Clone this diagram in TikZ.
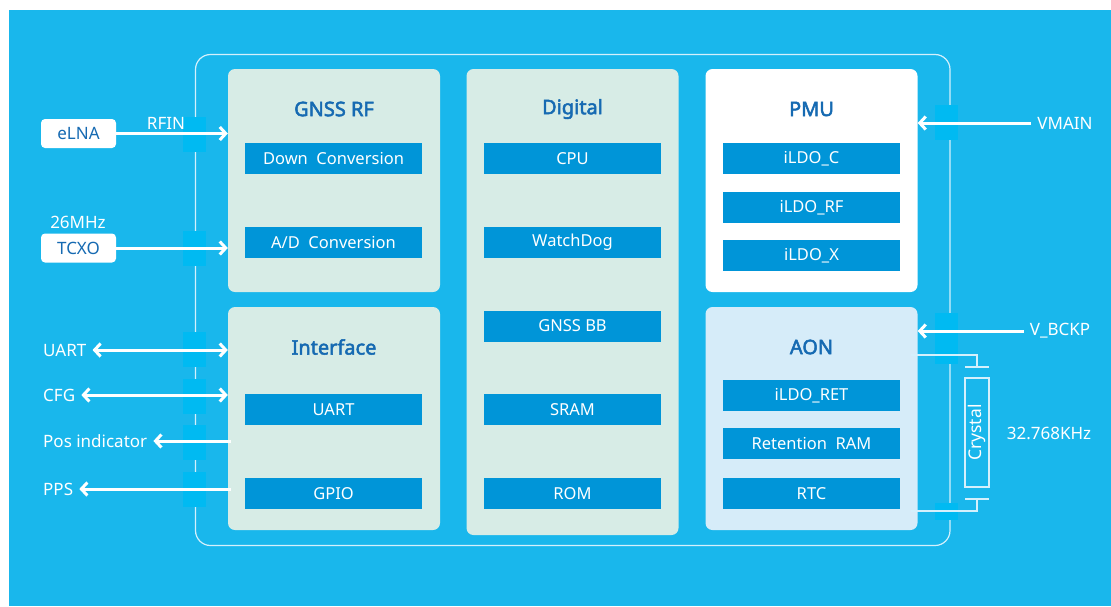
\documentclass[tikz,border=0pt]{standalone}
\usepackage{fontspec}
\setmainfont{Noto Sans}
\newfontfamily\titlefont{Noto Sans}[FakeBold=2.5]
\usetikzlibrary{arrows.meta,positioning}

\definecolor{bgblue}{RGB}{25,183,236}
\definecolor{pinblue}{RGB}{0,186,242}
\definecolor{panelgreen}{RGB}{215,236,230}
\definecolor{aonblue}{RGB}{214,236,249}
\definecolor{subblue}{RGB}{0,149,216}
\definecolor{titleblue}{RGB}{22,106,178}
\definecolor{wireblue}{RGB}{212,240,252}

\begin{document}
\begin{tikzpicture}[x=1pt,y=-1pt,
    >={Straight Barb[length=6pt,width=13pt]},
    panel/.style={fill=panelgreen,rounded corners=7pt,minimum width=212pt,minimum height=223pt,inner sep=0pt},
    subblk/.style={fill=subblue,text=white,minimum width=177pt,minimum height=31pt,inner sep=0pt,font=\fontsize{16.5}{18}\selectfont},
    blktitle/.style={text=titleblue,font=\titlefont\fontsize{20}{22}\selectfont},
    extbox/.style={fill=white,rounded corners=4pt,minimum width=75pt,minimum height=29pt,inner sep=0pt,text=titleblue,font=\fontsize{17}{19}\selectfont},
    lbl/.style={text=white,inner sep=6pt,font=\fontsize{17}{19}\selectfont},
    pin/.style={fill=pinblue,minimum width=23pt,minimum height=35pt,inner sep=0pt},
    sig/.style={draw=white,line width=3pt},
    wire/.style={draw=wireblue,line width=1.2pt}]

    % Background
    \fill[white] (0,0) rectangle (1111,606);
    \fill[bgblue] (9,10) rectangle (1111,606);

    % Chip outline and pins
    \draw[wire] (195.5,54.5) [rounded corners=15pt] rectangle (950,545.5);
    \foreach \py [count=\i] in {134.5,248,349.5,396,442.5,489.5}
        \node[pin] (lpin\i) at (194.5,\py) {};
    \node[pin] (rpin1) at (946.5,122.5) {};
    \node[pin] (rpin2) at (946.5,330) {};
    \node[pin,minimum height=17pt] (rpin3) at (946.5,355) {};
    \node[pin,minimum height=17pt] (rpin4) at (946.5,511.5) {};

    % Blocks
    \node[panel] (rf) at (334,180.5) {};
    \node[blktitle] (rft) at (334,109) {GNSS RF};
    \node[subblk] (dc) at (333.5,158.5) {Down~~Conversion};
    \node[subblk] (adc) at (333.5,242) {A/D~~Conversion};

    \node[panel] (iface) at (334,418.5) {};
    \node[blktitle] (ifacet) at (334,347) {Interface};
    \node[subblk] (iuart) at (333.5,409.5) {UART};
    \node[subblk] (gpio) at (333.5,493.5) {GPIO};

    \node[panel,minimum height=466pt] (dig) at (572.5,302) {};
    \node[blktitle] (digt) at (572.5,109) {Digital};
    \node[subblk] (cpu) at (572.5,158.5) {CPU};
    \node[subblk] (wdog) at (572.5,242) {WatchDog};
    \node[subblk] (bb) at (572.5,326) {GNSS BB};
    \node[subblk] (sram) at (572.5,409.5) {SRAM};
    \node[subblk] (rom) at (572.5,493.5) {ROM};

    \node[panel,fill=white] (pmu) at (811.5,180.5) {};
    \node[blktitle] (pmut) at (811.5,109) {PMU};
    \node[subblk] (ldoc) at (811.5,158.5) {iLDO\_C};
    \node[subblk] (ldorf) at (811.5,207.5) {iLDO\_RF};
    \node[subblk] (ldox) at (811.5,255.5) {iLDO\_X};

    \node[panel,fill=aonblue] (aon) at (811.5,418.5) {};
    \node[blktitle] (aont) at (811.5,347) {AON};
    \node[subblk] (ldoret) at (811.5,395.5) {iLDO\_RET};
    \node[subblk] (rram) at (811.5,443.5) {Retention~~RAM};
    \node[subblk] (rtc) at (811.5,493.5) {RTC};

    % Left side signals
    \node[extbox] (elna) at (78.5,133.5) {eLNA};
    \node[lbl] (rfin) at (166,123) {RFIN};
    \node[extbox] (tcxo) at (78.5,248) {TCXO};
    \node[lbl] (freq) at (78,222) {26MHz};
    \node[lbl,anchor=west] (uart) at (37,350) {UART};
    \node[lbl,anchor=west] (cfg) at (37,395) {CFG};
    \node[lbl,anchor=west] (pos) at (37,441) {Pos indicator};
    \node[lbl,anchor=west] (pps) at (37,489) {PPS};

    \draw[sig,->] (elna.east) -- (elna.east -| rf.west);
    \draw[sig,->] (tcxo.east) -- (tcxo.east -| rf.west);
    \draw[sig,<->] (uart.east) -- (uart.east -| iface.west);
    \draw[sig,<->] (cfg.east) -- (cfg.east -| iface.west);
    \draw[sig,->] ([xshift=3pt]pos.east -| iface.west) -- (pos.east);
    \draw[sig,->] ([xshift=3pt]pps.east -| iface.west) -- (pps.east);

    % Right side signals
    \node[lbl] (vmain) at (1065,123) {VMAIN};
    \node[lbl] (vbckp) at (1060,331) {V\_BCKP};
    \draw[sig,->] (vmain.west) -- (vmain.west -| pmu.east);
    \draw[sig,->] (vbckp.west) -- (vbckp.west -| aon.east);

    % 32k crystal
    \node[wire,rotate=90,text=white,minimum width=109pt,minimum height=24pt,inner sep=0pt,
          font=\fontsize{17.5}{19}\selectfont] (xtal) at (977,432.5) {Crystal};
    \node[lbl] (xfreq) at (1049,433) {32.768KHz};
    \coordinate (xtop) at (977,367);
    \coordinate (xbot) at (977,499);
    \coordinate (aontop) at (911,355);
    \coordinate (aonbot) at (911,511);
    \draw[wire] (aontop) -| (xtop);
    \draw[wire] (aonbot) -| (xbot);
    \draw[wire] ([xshift=-12pt]xtop) -- ([xshift=12pt]xtop);
    \draw[wire] ([xshift=-12pt]xbot) -- ([xshift=12pt]xbot);
\end{tikzpicture}
\end{document}
